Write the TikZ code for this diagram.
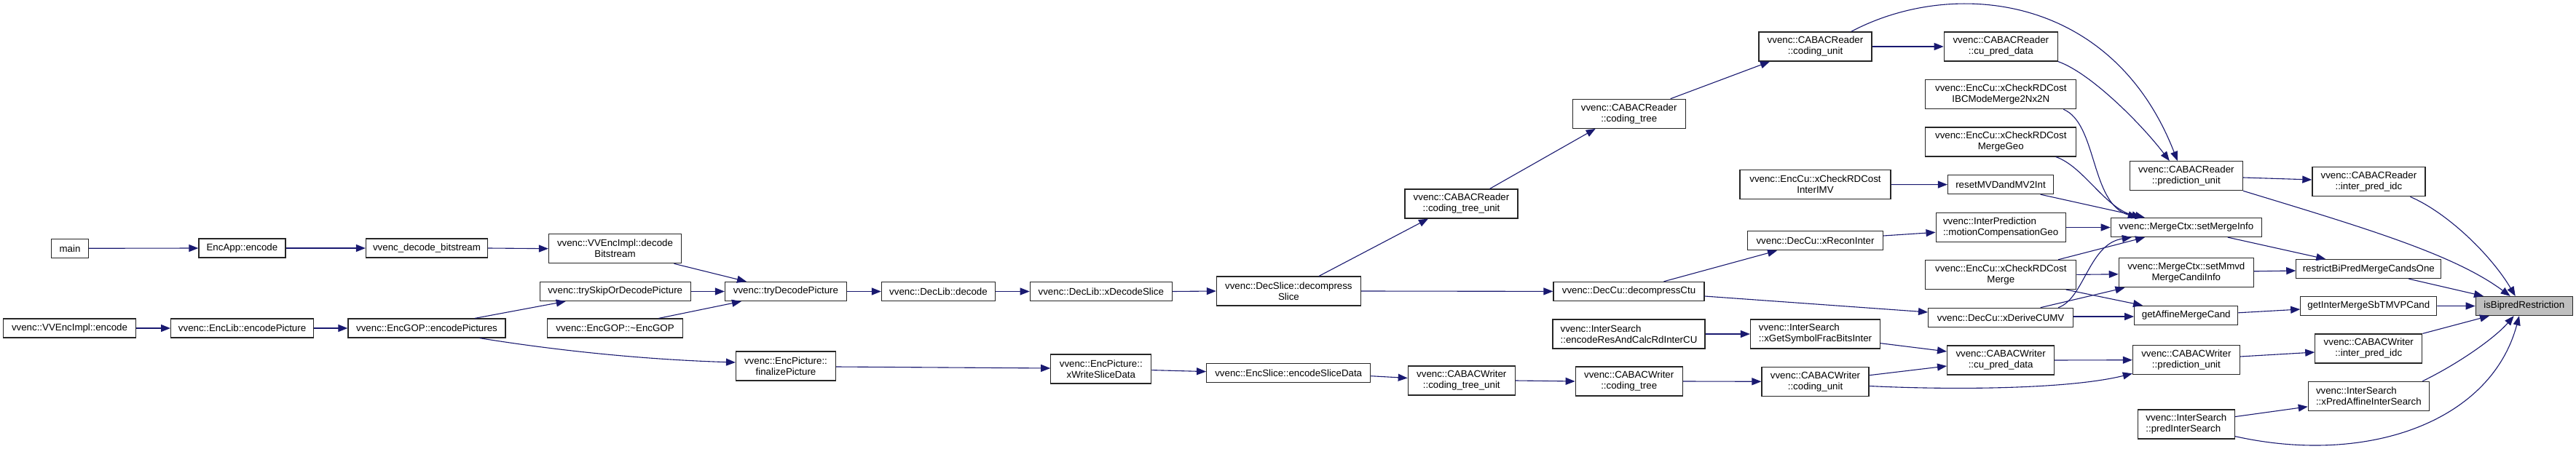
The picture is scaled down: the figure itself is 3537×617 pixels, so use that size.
\documentclass[tikz,border=0pt]{standalone}
\usepackage{fontspec}
\setmainfont{Liberation Sans}
\usetikzlibrary{arrows.meta}
\definecolor{edgec}{HTML}{191970}
\definecolor{hl}{HTML}{BFBFBF}
\begin{document}
\begin{tikzpicture}[x=1pt,y=-1pt,
  box/.style={draw=black!85, line width=1.2pt, fill=white, inner sep=0pt, align=center,
    font=\fontsize{13.3}{15}\selectfont, minimum height=26pt},
  two/.style={minimum height=40pt},
  lbox/.style={box, two, align=left},
  edge/.style={draw=edgec, line width=1.1pt, -{Triangle[length=13pt,width=10pt]}}]
\useasboundingbox[fill=white] (0,0) rectangle (3537,617);
% column 1
\node[box, minimum width=51pt] (main) at (96,341.3) {main};
\node[box, minimum width=182pt] (vvenc) at (95.5,451) {vvenc::VVEncImpl::encode};
% column 2
\node[box, minimum width=119pt] (encapp) at (332.4,341) {EncApp::encode};
\node[box, minimum width=196pt] (enclib) at (332.6,451) {vvenc::EncLib::encodePicture};
% column 3
\node[box, minimum width=167pt] (decbs) at (586,341) {vvenc\_decode\_bitstream};
\node[box, minimum width=216pt] (encgop) at (586,451) {vvenc::EncGOP::encodePictures};
% column 4
\node[box, two, minimum width=182pt] (vvdec) at (844.5,341.7) {vvenc::VVEncImpl::decode\\Bitstream};
\node[box, minimum width=207pt] (tryskip) at (844.7,400.5) {vvenc::trySkipOrDecodePicture};
\node[box, minimum width=186pt] (dtor) at (844.5,451) {vvenc::EncGOP::\textasciitilde EncGOP};
% column 5
\node[box, minimum width=167pt] (trydec) at (1079,400.5) {vvenc::tryDecodePicture};
\node[box, two, minimum width=137pt] (finalize) at (1079,503) {vvenc::EncPicture::\\finalizePicture};
% column 6
\node[box, minimum width=156pt] (declib) at (1288.5,400.5) {vvenc::DecLib::decode};
% column 7
\node[box, minimum width=195pt] (xdecslice) at (1511.8,400.5) {vvenc::DecLib::xDecodeSlice};
\node[box, two, minimum width=138pt] (xwrite) at (1511.8,507) {vvenc::EncPicture::\\xWriteSliceData};
% column 8
\node[box, two, minimum width=198pt] (decompslice) at (1769.4,400) {vvenc::DecSlice::decompress\\Slice};
\node[box, minimum width=225pt] (encslicedata) at (1769.2,512.5) {vvenc::EncSlice::encodeSliceData};
% column 9
\node[box, two, minimum width=155pt] (rctu) at (2006.5,280) {vvenc::CABACReader\\::coding\_tree\_unit};
\node[box, two, minimum width=147pt] (wctu) at (2006.8,523) {vvenc::CABACWriter\\::coding\_tree\_unit};
% column 10
\node[box, two, minimum width=155pt] (rct) at (2236.7,156.3) {vvenc::CABACReader\\::coding\_tree};
\node[box, minimum width=207pt] (decctu) at (2236.5,400.4) {vvenc::DecCu::decompressCtu};
\node[lbox, minimum width=209pt] (encres) at (2236.5,459) {vvenc::InterSearch\\::encodeResAndCalcRdInterCU};
\node[box, two, minimum width=147pt] (wct) at (2236.7,524) {vvenc::CABACWriter\\::coding\_tree};
% column 11
\node[box, two, minimum width=155pt] (rcu) at (2492.5,64) {vvenc::CABACReader\\::coding\_unit};
\node[box, two, minimum width=207pt] (imv) at (2492.5,253.7) {vvenc::EncCu::xCheckRDCost\\InterIMV};
\node[box, minimum width=186pt] (xrecon) at (2492.5,330.8) {vvenc::DecCu::xReconInter};
\node[lbox, minimum width=178pt] (xgetsym) at (2492.5,459) {vvenc::InterSearch\\::xGetSymbolFracBitsInter};
\node[box, two, minimum width=147pt] (wcu) at (2492.5,524.3) {vvenc::CABACWriter\\::coding\_unit};
% column 12
\node[box, two, minimum width=156pt] (rcupred) at (2747.3,64) {vvenc::CABACReader\\::cu\_pred\_data};
\node[box, two, minimum width=207pt] (ibc) at (2747.3,129.7) {vvenc::EncCu::xCheckRDCost\\IBCModeMerge2Nx2N};
\node[box, two, minimum width=207pt] (geo) at (2747.3,195) {vvenc::EncCu::xCheckRDCost\\MergeGeo};
\node[box, minimum width=145pt] (reset) at (2747,253.6) {resetMVDandMV2Int};
\node[lbox, minimum width=178pt] (mcgeo) at (2747.1,312.5) {vvenc::InterPrediction\\::motionCompensationGeo};
\node[box, two, minimum width=207pt] (merge) at (2747.3,377.4) {vvenc::EncCu::xCheckRDCost\\Merge};
\node[box, minimum width=199pt] (derive) at (2747.1,436.3) {vvenc::DecCu::xDeriveCUMV};
\node[box, two, minimum width=147pt] (wcupred) at (2747.1,495) {vvenc::CABACWriter\\::cu\_pred\_data};
% column 13
\node[box, two, minimum width=155pt] (rpu) at (3001.8,241.7) {vvenc::CABACReader\\::prediction\_unit};
\node[box, minimum width=207pt] (setmerge) at (3001.8,312.5) {vvenc::MergeCtx::setMergeInfo};
\node[box, two, minimum width=185pt] (mmvd) at (3001.8,374.8) {vvenc::MergeCtx::setMmvd\\MergeCandiInfo};
\node[box, minimum width=142pt] (affine) at (3001.7,433.3) {getAffineMergeCand};
\node[box, two, minimum width=147pt] (wpu) at (3001.9,494.7) {vvenc::CABACWriter\\::prediction\_unit};
\node[lbox, minimum width=133pt] (pred) at (3001.8,583) {vvenc::InterSearch\\::predInterSearch};
% column 14
\node[box, two, minimum width=155pt] (ridc) at (3252.4,249.8) {vvenc::CABACReader\\::inter\_pred\_idc};
\node[box, minimum width=199pt] (restrict) at (3252.3,369.6) {restrictBiPredMergeCandsOne};
\node[box, minimum width=187pt] (sbtmvp) at (3252.3,420.3) {getInterMergeSbTMVPCand};
\node[box, two, minimum width=147pt] (widc) at (3252.3,479) {vvenc::CABACWriter\\::inter\_pred\_idc};
\node[lbox, minimum width=166pt] (xpredaff) at (3252.3,544.3) {vvenc::InterSearch\\::xPredAffineInterSearch};
% column 15
\node[box, fill=hl, minimum width=133pt] (isbipred) at (3465.7,420.5) {isBipredRestriction};

% edges
\draw[edge] (main.east) -- (encapp.west);
\draw[edge] (encapp.east) -- (decbs.west);
\draw[edge] (decbs.east) -- (vvdec.west);
\draw[edge] (vvenc.east) -- (enclib.west);
\draw[edge] (enclib.east) -- (encgop.west);
\draw[edge] ([xshift=66pt]encgop.north) -- ([xshift=-68pt]tryskip.south);
\draw[edge] ([xshift=72.5pt]encgop.south) .. controls (760,481) and (880,494) .. ([yshift=5pt]finalize.west);
\draw[edge] ([xshift=81pt]vvdec.south) -- ([xshift=-54pt]trydec.north);
\draw[edge] (tryskip.east) -- (trydec.west);
\draw[edge] ([xshift=60pt]dtor.north) -- ([xshift=-61pt]trydec.south);
\draw[edge] (trydec.east) -- (declib.west);
\draw[edge] (declib.east) -- (xdecslice.west);
\draw[edge] (xdecslice.east) -- (decompslice.west);
\draw[edge] ([yshift=-1pt]finalize.east) -- ([yshift=1pt]xwrite.west);
\draw[edge] ([yshift=-1.6pt]xwrite.east) -- ([yshift=1.9pt]encslicedata.west);
\draw[edge] ([yshift=-4.2pt]encslicedata.east) -- ([yshift=3.5pt]wctu.west);
\draw[edge] ([xshift=41.6pt]decompslice.north) -- ([xshift=-45.5pt]rctu.south);
\draw[edge] (decompslice.east) -- (decctu.west);
\draw[edge] ([xshift=39pt]rctu.north) -- ([xshift=-46pt]rct.south);
\draw[edge] ([xshift=57pt]rct.north) -- ([xshift=-62.5pt]rcu.south);
\draw[edge] (rcu.east) -- (rcupred.west);
\draw[edge] ([xshift=49.2pt]rcu.north) .. controls (2680,-30) and (2900,-10) .. ([xshift=-12pt]rpu.north);
\draw[edge] (rcupred.south east) .. controls (2870,100) and (2940,170) .. ([xshift=-23pt]rpu.north);
\draw[edge] ([yshift=-2.3pt]rpu.east) -- ([yshift=2.8pt]ridc.west);
\draw[edge] (rpu.south east) .. controls (3250,314) and (3370,350) .. ([xshift=-19pt]isbipred.north);
\draw[edge] ([xshift=57pt]ridc.south) .. controls (3360,292) and (3420,350) .. ([xshift=-12pt]isbipred.north);
\draw[edge] ([xshift=48pt]decctu.north) -- ([xshift=-52.5pt]xrecon.south);
\draw[edge] ([yshift=-6.6pt]decctu.east) -- ([yshift=7.3pt]derive.west);
\draw[edge] ([yshift=6.8pt]xrecon.east) -- ([yshift=-6.8pt]mcgeo.west);
\draw[edge] (mcgeo.east) -- (setmerge.west);
\draw[edge] (imv.east) -- (reset.west);
\draw[edge] ([xshift=54.6pt]reset.south) -- ([xshift=-57pt]setmerge.north);
\draw[edge] ([xshift=86pt]ibc.south) .. controls (2880,170) and (2870,280) .. ([xshift=-67pt]setmerge.north);
\draw[edge] ([xshift=75.4pt]geo.south) .. controls (2860,228) and (2890,285) .. ([xshift=-62pt]setmerge.north);
\draw[edge] ([xshift=78.7pt]merge.north) -- ([xshift=-56.8pt]setmerge.south);
\draw[edge] (merge.east) -- ([yshift=-2pt]mmvd.west);
\draw[edge] ([xshift=89.4pt]merge.south) -- ([xshift=-59.7pt]affine.north);
\draw[edge] ([xshift=79pt]derive.north) .. controls (2862,410) and (2868,335) .. ([xshift=-75pt]setmerge.south);
\draw[edge] ([xshift=54.5pt]derive.north) -- ([xshift=-84.4pt]mmvd.south);
\draw[edge] ([yshift=1.3pt]derive.east) -- ([yshift=-1.7pt]affine.west);
\draw[edge] ([xshift=57pt]setmerge.south) -- ([xshift=-59pt]restrict.north);
\draw[edge] ([yshift=2pt]mmvd.east) -- ([yshift=-2.4pt]restrict.west);
\draw[edge] ([yshift=3.5pt]affine.east) -- ([yshift=-4.7pt]sbtmvp.west);
\draw[edge] ([xshift=55pt]restrict.south) -- ([xshift=-55.7pt]isbipred.north);
\draw[edge] (sbtmvp.east) -- (isbipred.west);
\draw[edge] (encres.east) -- (xgetsym.west);
\draw[edge] ([yshift=-12.7pt]xgetsym.east) -- ([yshift=12pt]wcupred.west);
\draw[edge] (wctu.east) -- (wct.west);
\draw[edge] (wct.east) -- (wcu.west);
\draw[edge] ([yshift=8.6pt]wcu.east) -- ([yshift=-8pt]wcupred.west);
\draw[edge] ([yshift=-6.2pt]wcu.east) .. controls (2680,536) and (2840,535) .. ([yshift=2pt]wpu.south west);
\draw[edge] (wcupred.east) -- (wpu.west);
\draw[edge] ([yshift=4.7pt]wpu.east) -- ([yshift=-5pt]widc.west);
\draw[edge] (widc.north east) -- ([xshift=-47.7pt]isbipred.south);
\draw[edge] ([yshift=10.4pt]pred.east) -- ([yshift=-14.5pt]xpredaff.west);
\draw[edge] ([xshift=74pt]xpredaff.north) .. controls (3375,500) and (3425,465) .. ([xshift=-14pt]isbipred.south);
\draw[edge] ([yshift=4pt]pred.south east) .. controls (3250,640) and (3420,580) .. ([xshift=-6.7pt]isbipred.south);
\end{tikzpicture}
\end{document}
